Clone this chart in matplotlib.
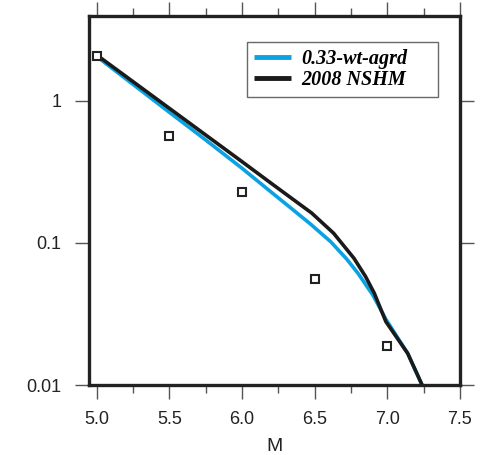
import matplotlib
matplotlib.use("Agg")
import matplotlib.pyplot as plt
from matplotlib.ticker import FixedLocator, FixedFormatter, NullLocator

# Data
obs_m = [5.0, 5.5, 6.0, 6.5, 7.0]
obs_rate = [2.07, 0.568, 0.228, 0.0557, 0.0188]

blue_m = [5.0, 5.5, 5.75, 6.0, 6.2, 6.33, 6.47, 6.61, 6.72, 6.8, 6.9, 6.99, 7.14, 7.243]
blue_rate = [2.05, 0.83, 0.53, 0.335, 0.228, 0.178, 0.136, 0.102, 0.077, 0.0607, 0.043, 0.029, 0.0167, 0.0098]

black_m = [5.0, 5.5, 6.0, 6.2, 6.33, 6.48, 6.63, 6.77, 6.85, 6.91, 6.99, 7.14, 7.243]
black_rate = [2.1, 0.885, 0.373, 0.263, 0.21, 0.162, 0.117, 0.078, 0.058, 0.0443, 0.0279, 0.0167, 0.0098]

labels = ["0.33-wt-agrd", "2008 NSHM"]
xticks = [5.0, 5.5, 6.0, 6.5, 7.0, 7.5]
xtick_labels = ["5.0", "5.5", "6.0", "6.5", "7.0", "7.5"]
yticks = [0.01, 0.1, 1]
ytick_labels = ["0.01", "0.1", "1"]

fig = plt.figure(figsize=(4.85, 4.55), dpi=100)
ax = fig.add_axes([89/485, 1-385/455, 371/485, 369/455])

ax.plot(blue_m, blue_rate, color="#0aa2e2", lw=2.6, label=labels[0], solid_capstyle="butt")
ax.plot(black_m, black_rate, color="#1a1a1a", lw=2.6, label=labels[1], solid_capstyle="butt")
ax.plot(obs_m, obs_rate, linestyle="none", marker="s", ms=6, mfc="white",
        mec="#222222", mew=1.5, zorder=5, clip_on=False)

ax.set_yscale("log")
ax.set_xlim(4.947, 7.5)
ax.set_ylim(0.01, 3.95)

ax.xaxis.set_major_locator(FixedLocator(xticks))
ax.xaxis.set_major_formatter(FixedFormatter(xtick_labels))
ax.xaxis.set_minor_locator(FixedLocator([5.25, 5.75, 6.25, 6.75, 7.25]))
ax.yaxis.set_major_locator(FixedLocator(yticks))
ax.yaxis.set_major_formatter(FixedFormatter(ytick_labels))
ax.yaxis.set_minor_locator(NullLocator())

ax.tick_params(which="both", direction="out", top=True, right=True,
               color="#555555", width=1.0, labelsize=13, labelcolor="#222222")
ax.tick_params(which="major", length=10)
ax.tick_params(which="minor", length=6)
ax.tick_params(axis="x", which="major", pad=9)
ax.tick_params(axis="y", which="major", pad=10)
for lab in ax.get_xticklabels() + ax.get_yticklabels():
    lab.set_fontfamily(["Liberation Sans", "DejaVu Sans"])

for sp in ax.spines.values():
    sp.set_linewidth(2.4)
    sp.set_color("#222222")

ax.set_xlabel("M", fontsize=14, family=["Liberation Sans", "DejaVu Sans"], color="#222222", labelpad=7)

leg = ax.legend(loc="upper left", bbox_to_anchor=(0.426, 0.775, 0.515, 0.155), mode="expand",
                borderaxespad=0, frameon=True, fancybox=False, handlelength=1.85,
                handletextpad=0.5, borderpad=0.35, labelspacing=0.05,
                prop={"family": ["Liberation Serif", "DejaVu Serif"], "style": "italic",
                      "weight": "bold", "size": 14.5})
leg.get_frame().set_edgecolor("#444444")
leg.get_frame().set_linewidth(1.0)
for h in leg.get_lines():
    h.set_linewidth(3.5)

fig.savefig("out.png", dpi=100)
